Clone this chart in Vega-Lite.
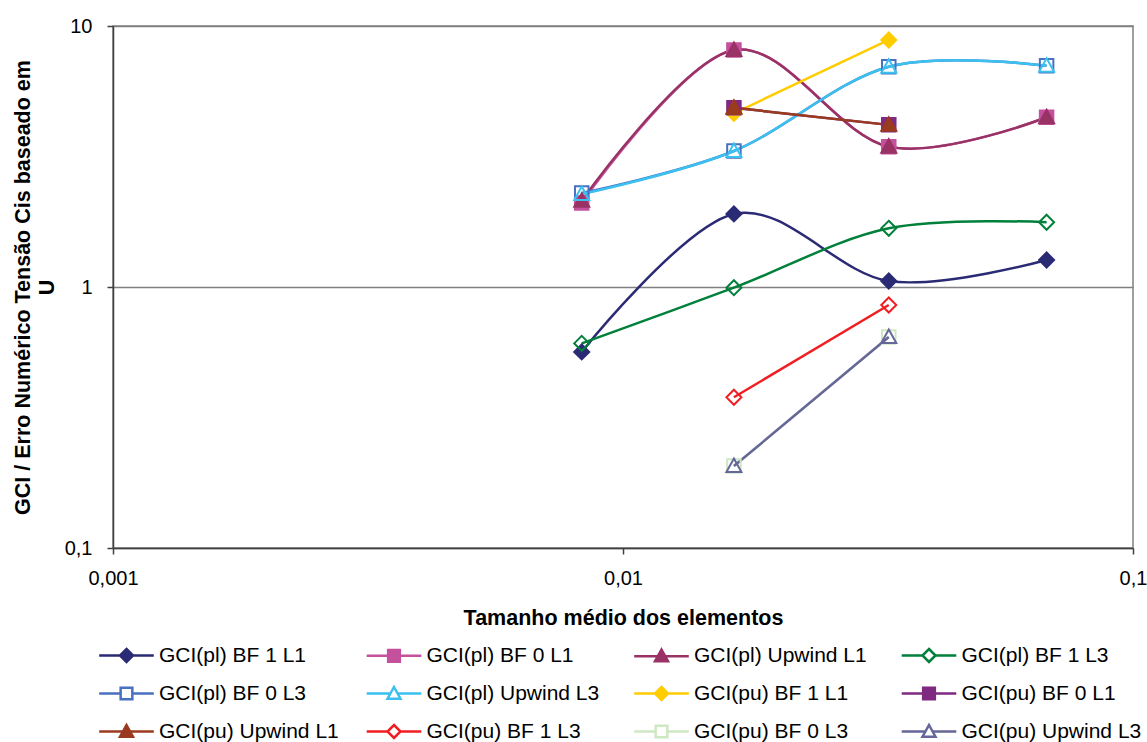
{
  "$schema": "https://vega.github.io/schema/vega-lite/v6.json",
  "width": 1020,
  "height": 522,
  "autosize": {"type": "none"},
  "padding": {"left": 113, "top": 26, "right": 14, "bottom": 194},
  "background": "white",
  "config": {
    "font": "Liberation Sans",
    "view": {"stroke": "#808080", "strokeWidth": 1.5}
  },
  "data": {
    "values": [
      {"series": "GCI(pl) BF 1 L1", "x": 0.0083, "y": 0.564},
      {"series": "GCI(pl) BF 1 L1", "x": 0.0165, "y": 1.905},
      {"series": "GCI(pl) BF 1 L1", "x": 0.0332, "y": 1.054},
      {"series": "GCI(pl) BF 1 L1", "x": 0.0677, "y": 1.269},
      {"series": "GCI(pl) BF 0 L1", "x": 0.0083, "y": 2.1},
      {"series": "GCI(pl) BF 0 L1", "x": 0.0165, "y": 8.09},
      {"series": "GCI(pl) BF 0 L1", "x": 0.0332, "y": 3.45},
      {"series": "GCI(pl) BF 0 L1", "x": 0.0677, "y": 4.47},
      {"series": "GCI(pl) Upwind L1", "x": 0.0083, "y": 2.14},
      {"series": "GCI(pl) Upwind L1", "x": 0.0165, "y": 8.09},
      {"series": "GCI(pl) Upwind L1", "x": 0.0332, "y": 3.45},
      {"series": "GCI(pl) Upwind L1", "x": 0.0677, "y": 4.47},
      {"series": "GCI(pl) BF 1 L3", "x": 0.0083, "y": 0.608},
      {"series": "GCI(pl) BF 1 L3", "x": 0.0165, "y": 0.994},
      {"series": "GCI(pl) BF 1 L3", "x": 0.0332, "y": 1.678},
      {"series": "GCI(pl) BF 1 L3", "x": 0.0677, "y": 1.77},
      {"series": "GCI(pl) BF 0 L3", "x": 0.0083, "y": 2.29},
      {"series": "GCI(pl) BF 0 L3", "x": 0.0165, "y": 3.32},
      {"series": "GCI(pl) BF 0 L3", "x": 0.0332, "y": 6.98},
      {"series": "GCI(pl) BF 0 L3", "x": 0.0677, "y": 7.04},
      {"series": "GCI(pl) Upwind L3", "x": 0.0083, "y": 2.27},
      {"series": "GCI(pl) Upwind L3", "x": 0.0165, "y": 3.32},
      {"series": "GCI(pl) Upwind L3", "x": 0.0332, "y": 6.98},
      {"series": "GCI(pl) Upwind L3", "x": 0.0677, "y": 7.04},
      {"series": "GCI(pu) BF 1 L1", "x": 0.0165, "y": 4.63},
      {"series": "GCI(pu) BF 1 L1", "x": 0.0332, "y": 8.84},
      {"series": "GCI(pu) BF 0 L1", "x": 0.0165, "y": 4.86},
      {"series": "GCI(pu) BF 0 L1", "x": 0.0332, "y": 4.18},
      {"series": "GCI(pu) Upwind L1", "x": 0.0165, "y": 4.86},
      {"series": "GCI(pu) Upwind L1", "x": 0.0332, "y": 4.18},
      {"series": "GCI(pu) BF 1 L3", "x": 0.0165, "y": 0.378},
      {"series": "GCI(pu) BF 1 L3", "x": 0.0332, "y": 0.853},
      {"series": "GCI(pu) BF 0 L3", "x": 0.0165, "y": 0.206},
      {"series": "GCI(pu) BF 0 L3", "x": 0.0332, "y": 0.643},
      {"series": "GCI(pu) Upwind L3", "x": 0.0165, "y": 0.206},
      {"series": "GCI(pu) Upwind L3", "x": 0.0332, "y": 0.643}
    ]
  },
  "encoding": {
    "x": {
      "field": "x",
      "type": "quantitative",
      "scale": {"type": "log", "domain": [0.001, 0.1]},
      "axis": {
        "values": [0.001, 0.01, 0.1],
        "labelExpr": "replace(toString(datum.value), '.', ',')",
        "grid": false,
        "labelFlush": false,
        "labelOverlap": false,
        "labelFontSize": 20,
        "labelColor": "black",
        "labelPadding": 14,
        "tickSize": 6,
        "tickColor": "#404040",
        "tickWidth": 1.5,
        "domainColor": "#404040",
        "domainWidth": 1.5,
        "title": "Tamanho médio dos elementos",
        "titleFontSize": 21.5,
        "titleFontWeight": "bold",
        "titleColor": "black",
        "titlePadding": 19
      }
    },
    "y": {
      "field": "y",
      "type": "quantitative",
      "scale": {"type": "log", "domain": [0.1, 10]},
      "axis": {
        "values": [0.1, 1, 10],
        "labelExpr": "replace(toString(datum.value), '.', ',')",
        "grid": true,
        "gridColor": "#808080",
        "gridWidth": 1.5,
        "labelFlush": false,
        "labelOverlap": false,
        "labelFontSize": 20,
        "labelColor": "black",
        "labelPadding": 15,
        "tickSize": 6,
        "tickColor": "#404040",
        "tickWidth": 1.5,
        "domainColor": "#404040",
        "domainWidth": 1.5,
        "title": ["GCI / Erro Numérico Tensão Cis baseado em", "U"],
        "titleFontSize": 21.5,
        "titleFontWeight": "bold",
        "titleColor": "black",
        "titleLineHeight": 24,
        "titleAngle": -90,
        "titleAlign": "center",
        "titleBaseline": "middle",
        "titleX": -90,
        "titleY": 261
      }
    },
    "stroke": {
      "field": "series",
      "type": "nominal",
      "scale": {
        "domain": ["GCI(pl) BF 1 L1", "GCI(pl) BF 0 L1", "GCI(pl) Upwind L1", "GCI(pl) BF 1 L3", "GCI(pl) BF 0 L3", "GCI(pl) Upwind L3", "GCI(pu) BF 1 L1", "GCI(pu) BF 0 L1", "GCI(pu) Upwind L1", "GCI(pu) BF 1 L3", "GCI(pu) BF 0 L3", "GCI(pu) Upwind L3"],
        "range": ["#2A2A75", "#C4509E", "#993366", "#00803A", "#4A70C0", "#3BC0F0", "#FFCC00", "#7F2A80", "#9A3A1E", "#F01E23", "#CFE8C4", "#666699"]
      },
      "legend": {
        "orient": "none",
        "direction": "horizontal",
        "legendX": 3,
        "legendY": 619,
        "columns": 4,
        "gridAlign": "all",
        "columnPadding": 22.5,
        "rowPadding": 15,
        "title": null,
        "labelFontSize": 21,
        "labelColor": "black",
        "labelLimit": 400,
        "labelOffset": 22,
        "symbolSize": 169,
        "symbolStrokeWidth": 2.5,
        "symbolType": {"expr": "['M-4.2,0H-1M1,0H4.2M0,-1L1,0L0,1L-1,0Z', 'M-4.2,0H-0.9M0.9,0H4.2M-0.9,-0.9H0.9V0.9H-0.9Z', 'M-4.2,0H-0.56M0.56,0H4.2M0,-1L1,0.8H-1Z'][datum.index % 3]"},
        "encode": {
          "symbols": {
            "update": {
              "shape": {"signal": "['M-4.2,0H-1M1,0H4.2M0,-1L1,0L0,1L-1,0Z', 'M-4.2,0H-0.9M0.9,0H4.2M-0.9,-0.9H0.9V0.9H-0.9Z', 'M-4.2,0H-0.56M0.56,0H4.2M0,-1L1,0.8H-1Z'][datum.index % 3]"},
              "fill": {"signal": "['#2A2A75', '#C4509E', '#993366', 'transparent', 'transparent', 'transparent', '#FFCC00', '#7F2A80', '#9A3A1E', 'transparent', 'transparent', 'transparent'][datum.index]"},
              "strokeWidth": {"value": 2.5},
              "opacity": {"value": 1}
            }
          }
        }
      }
    }
  },
  "layer": [
    {
      "mark": {"type": "line", "interpolate": "cardinal", "strokeWidth": 2.5},
      "encoding": {}
    },
    {
      "transform": [{"filter": {"field": "series", "oneOf": ["GCI(pl) BF 1 L1", "GCI(pl) BF 1 L3", "GCI(pu) BF 1 L1", "GCI(pu) BF 1 L3"]}}],
      "mark": {"type": "point", "shape": "M0,-1L1,0L0,1L-1,0Z", "size": 225, "strokeWidth": 2, "opacity": 1, "filled": false},
      "encoding": {
        "fill": {
          "field": "series",
          "type": "nominal",
          "scale": {
            "domain": ["GCI(pl) BF 1 L1", "GCI(pl) BF 0 L1", "GCI(pl) Upwind L1", "GCI(pl) BF 1 L3", "GCI(pl) BF 0 L3", "GCI(pl) Upwind L3", "GCI(pu) BF 1 L1", "GCI(pu) BF 0 L1", "GCI(pu) Upwind L1", "GCI(pu) BF 1 L3", "GCI(pu) BF 0 L3", "GCI(pu) Upwind L3"],
            "range": ["#2A2A75", "#C4509E", "#993366", "transparent", "transparent", "transparent", "#FFCC00", "#7F2A80", "#9A3A1E", "transparent", "transparent", "transparent"]
          },
          "legend": null
        }
      }
    },
    {
      "transform": [{"filter": {"field": "series", "oneOf": ["GCI(pl) BF 0 L1", "GCI(pl) BF 0 L3", "GCI(pu) BF 0 L1", "GCI(pu) BF 0 L3"]}}],
      "mark": {"type": "point", "shape": "M-0.9,-0.9H0.9V0.9H-0.9Z", "size": 225, "strokeWidth": 2, "opacity": 1, "filled": false},
      "encoding": {
        "fill": {"field": "series", "type": "nominal", "legend": null}
      }
    },
    {
      "transform": [{"filter": {"field": "series", "oneOf": ["GCI(pl) Upwind L1", "GCI(pl) Upwind L3", "GCI(pu) Upwind L1", "GCI(pu) Upwind L3"]}}],
      "mark": {"type": "point", "shape": "M0,-1L1,0.8H-1Z", "size": 225, "strokeWidth": 2, "opacity": 1, "filled": false},
      "encoding": {
        "fill": {"field": "series", "type": "nominal", "legend": null}
      }
    }
  ]
}
